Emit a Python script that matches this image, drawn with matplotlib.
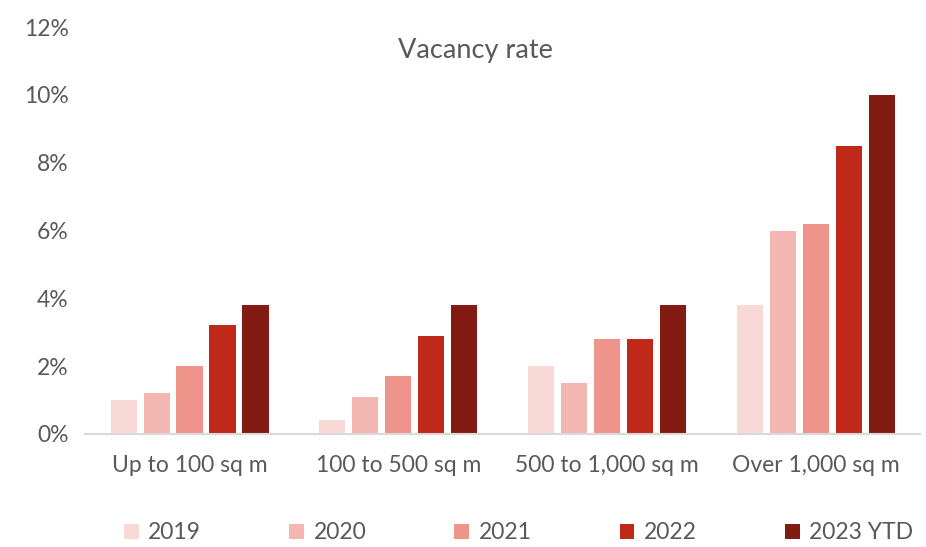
import numpy as np
from matplotlib import pyplot as plt
from matplotlib.ticker import FuncFormatter

categories = ["Up to 100 sq m", "100 to 500 sq m", "500 to 1,000 sq m", "Over 1,000 sq m"]
years = ["2019", "2020", "2021", "2022", "2023 YTD"]
rate_2019 = [1.0, 0.4, 2.0, 3.8]
rate_2020 = [1.2, 1.1, 1.5, 6.0]
rate_2021 = [2.0, 1.7, 2.8, 6.2]
rate_2022 = [3.2, 2.9, 2.8, 8.5]
rate_2023 = [3.8, 3.8, 3.8, 10.0]
colors = ["#F9D9D5", "#F4B6B0", "#EF948B", "#C0281A", "#821B12"]

plt.rcParams["font.family"] = ["Lato", "DejaVu Sans"]
text_color = "#595959"

fig = plt.figure(figsize=(9.26, 5.47), dpi=100)
ax = fig.add_axes([0.092, 0.2066, 0.9015, 0.744])

x = np.arange(len(categories))
width = 0.125
step = 0.158
series = [rate_2019, rate_2020, rate_2021, rate_2022, rate_2023]
for i, (vals, year) in enumerate(zip(series, years)):
    ax.bar(x + (i - 2) * step, vals, width, color=colors[i], label=year)

ax.set_xlim(-0.5, len(categories) - 0.5)
ax.set_ylim(0, 12)
ax.set_yticks(range(0, 13, 2))
ax.yaxis.set_major_formatter(FuncFormatter(lambda v, _: f"{int(v)}%"))
ax.set_xticks(x)
ax.set_xticklabels(categories)
ax.tick_params(axis="both", length=0, labelsize=16.5, colors=text_color)
ax.tick_params(axis="x", pad=15)
ax.tick_params(axis="y", pad=12)
for s in ["top", "right", "left"]:
    ax.spines[s].set_visible(False)
ax.spines["bottom"].set_color("#D9D9D9")
ax.spines["bottom"].set_linewidth(1.5)

fig.text(0.513, 0.907, "Vacancy rate", ha="center", va="center", fontsize=19.5, color=text_color)

fig.legend(loc="center", bbox_to_anchor=(0.56, 0.026), ncol=5, frameon=False,
           fontsize=16.5, labelcolor=text_color, handlelength=0.65, handleheight=0.65,
           handletextpad=0.4, columnspacing=3.85, borderpad=0.1)

fig.savefig("out.png", dpi=100)
